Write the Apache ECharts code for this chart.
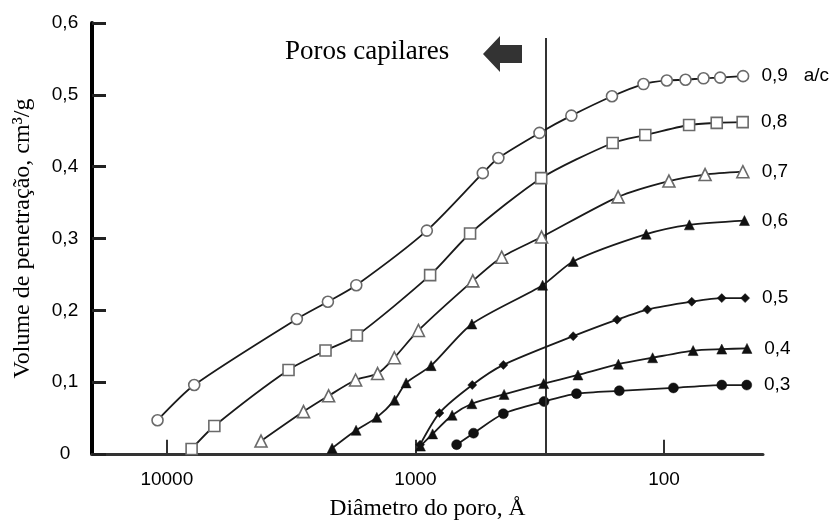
<!DOCTYPE html>
<html>
<head>
<meta charset="utf-8">
<script src="https://cdn.jsdelivr.net/npm/echarts@6/dist/echarts.min.js"></script>
<style>
html,body{margin:0;padding:0;background:#fff;}
#chart{width:835px;height:523px;}
</style>
</head>
<body>
<div id="chart"></div>
<script>
// Pore diameter (Å) and penetration volume (cm3/g) per a/c ratio
const d09 = [10900, 7760, 3000, 2250, 1730, 900, 536, 464, 317, 236, 162, 121, 97.5, 82, 69.4, 59.5, 48.1];
const v09 = [0.047, 0.096, 0.188, 0.212, 0.235, 0.311, 0.391, 0.412, 0.447, 0.471, 0.498, 0.515, 0.520, 0.521, 0.523, 0.524, 0.526];

const d08 = [7950, 6440, 3240, 2300, 1720, 873, 603, 312, 161, 119, 79.3, 61.4, 48.3];
const v08 = [0.007, 0.039, 0.117, 0.144, 0.165, 0.249, 0.307, 0.384, 0.433, 0.444, 0.458, 0.461, 0.462];

const d07 = [4180, 2820, 2235, 1741, 1420, 1216, 973, 588, 450, 311, 153, 95.6, 68.4, 48.2];
const v07 = [0.018, 0.059, 0.081, 0.103, 0.112, 0.134, 0.172, 0.241, 0.274, 0.302, 0.358, 0.380, 0.389, 0.393];

const d06 = [2164, 1733, 1430, 1213, 1090, 865, 593, 308, 232, 118, 79.1, 47.5];
const v06 = [0.008, 0.033, 0.051, 0.075, 0.099, 0.123, 0.181, 0.235, 0.268, 0.306, 0.319, 0.325];

const d05 = [958, 801, 591, 443, 232, 154.5, 116.7, 77.4, 58.6, 47.2];
const v05 = [0.013, 0.057, 0.096, 0.124, 0.164, 0.187, 0.201, 0.212, 0.217, 0.217];

const d04 = [955, 853, 712, 593, 440, 305, 222, 152.7, 111.2, 76.4, 58.6, 46.4];
const v04 = [0.011, 0.028, 0.054, 0.070, 0.083, 0.098, 0.110, 0.125, 0.134, 0.144, 0.146, 0.147];

const d03 = [683, 584, 443, 304, 225, 151.4, 91.7, 58.6, 46.5];
const v03 = [0.013, 0.029, 0.056, 0.073, 0.084, 0.088, 0.092, 0.096, 0.096];

const seriesLabels = ['0,9   a/c', '0,8', '0,7', '0,6', '0,5', '0,4', '0,3'];
const xTicks = [10000, 1000, 100];
const capillaryLimit = 300;   // Å, vertical divider
const yTicksMax = 0.6;

const chart = echarts.init(document.getElementById('chart'), null, {renderer: 'canvas'});

const SANS = '"Liberation Sans", Arial, sans-serif';
const SERIF = '"Liberation Serif", "Times New Roman", serif';

function buildData(ds, vs, label) {
  return ds.map((d, i) => {
    const item = {value: [d, vs[i]]};
    if (i === ds.length - 1) {
      item.label = {
        show: true, position: 'right', distance: 12,
        formatter: label, color: '#000', fontFamily: SANS, fontSize: 19
      };
    }
    return item;
  });
}

const specs = [
  {ds: d09, vs: v09, symbol: 'circle', size: 11, open: true},
  {ds: d08, vs: v08, symbol: 'rect', size: 11, open: true},
  {ds: d07, vs: v07, symbol: 'triangle', size: 12, open: true},
  {ds: d06, vs: v06, symbol: 'triangle', size: 10, open: false},
  {ds: d05, vs: v05, symbol: 'diamond', size: 9, open: false},
  {ds: d04, vs: v04, symbol: 'triangle', size: 10, open: false},
  {ds: d03, vs: v03, symbol: 'circle', size: 10, open: false}
];

const series = specs.map((s, k) => ({
  type: 'line',
  name: seriesLabels[k],
  data: buildData(s.ds, s.vs, seriesLabels[k]),
  smooth: 0.25,
  symbol: s.symbol,
  symbolSize: s.size,
  showAllSymbol: true,
  lineStyle: {color: '#1a1a1a', width: 1.8},
  itemStyle: s.open
    ? {color: '#ffffff', borderColor: '#6a6a6a', borderWidth: 1.6}
    : {color: '#111111', borderColor: '#111111', borderWidth: 0.5},
  z: 10 - k
}));

// vertical divider (capillary pores limit) and x-axis tick marks drawn on the data scale
series.push({
  type: 'line',
  data: [],
  z: 1,
  markLine: {
    silent: true,
    symbol: 'none',
    label: {show: false},
    lineStyle: {color: '#333', width: 2, type: 'solid'},
    data: [[{coord: [capillaryLimit, 0]}, {coord: [capillaryLimit, 0.579]}]].concat(
      xTicks.map(t => [{coord: [t, 0]}, {coord: [t, 0.02]}])
    )
  }
});

const option = {
  animation: false,
  backgroundColor: '#fff',
  grid: {left: 92, right: 72, top: 23, bottom: 69, outerBoundsMode: 'none', containLabel: false},
  xAxis: {
    type: 'log',
    logBase: 10,
    min: 40,
    max: 20000,
    inverse: true,
    name: 'Diâmetro do poro, Å',
    nameLocation: 'middle',
    nameGap: 43,
    nameTextStyle: {fontFamily: SERIF, fontSize: 23.5, color: '#000'},
    axisLine: {onZero: false, lineStyle: {color: '#333', width: 3}},
    axisTick: {show: false},
    axisLabel: {
      showMinLabel: false, showMaxLabel: false,
      margin: 16,
      fontFamily: SANS, fontSize: 19, color: '#000',
      formatter: v => {
        const r = Math.round(v);
        return xTicks.indexOf(r) >= 0 ? String(r) : '';
      }
    },
    splitLine: {show: false}
  },
  yAxis: {
    type: 'value',
    min: 0,
    max: yTicksMax,
    interval: 0.1,
    name: 'Volume de penetração, cm³/g',
    nameLocation: 'middle',
    nameGap: 57,
    nameTextStyle: {fontFamily: SERIF, fontSize: 24, color: '#000'},
    axisLine: {show: true, lineStyle: {color: '#000', width: 4}},
    axisTick: {show: true, inside: true, length: 14, lineStyle: {color: '#222', width: 3}},
    axisLabel: {
      margin: 27, align: 'center',
      fontFamily: SANS, fontSize: 19, color: '#000',
      formatter: v => (Math.abs(v) < 1e-9 ? '0' : v.toFixed(1).replace('.', ','))
    },
    splitLine: {show: false}
  },
  graphic: [
    {
      type: 'text',
      left: 285,
      top: 38,
      style: {text: 'Poros capilares', font: '27px "Liberation Serif", serif', fill: '#000'}
    },
    {
      type: 'polygon',
      shape: {points: [[483, 54], [500, 36], [500, 45], [522, 45], [522, 63], [500, 63], [500, 72]]},
      style: {fill: '#333'}
    }
  ],
  series: series
};

chart.setOption(option);
</script>
</body>
</html>
